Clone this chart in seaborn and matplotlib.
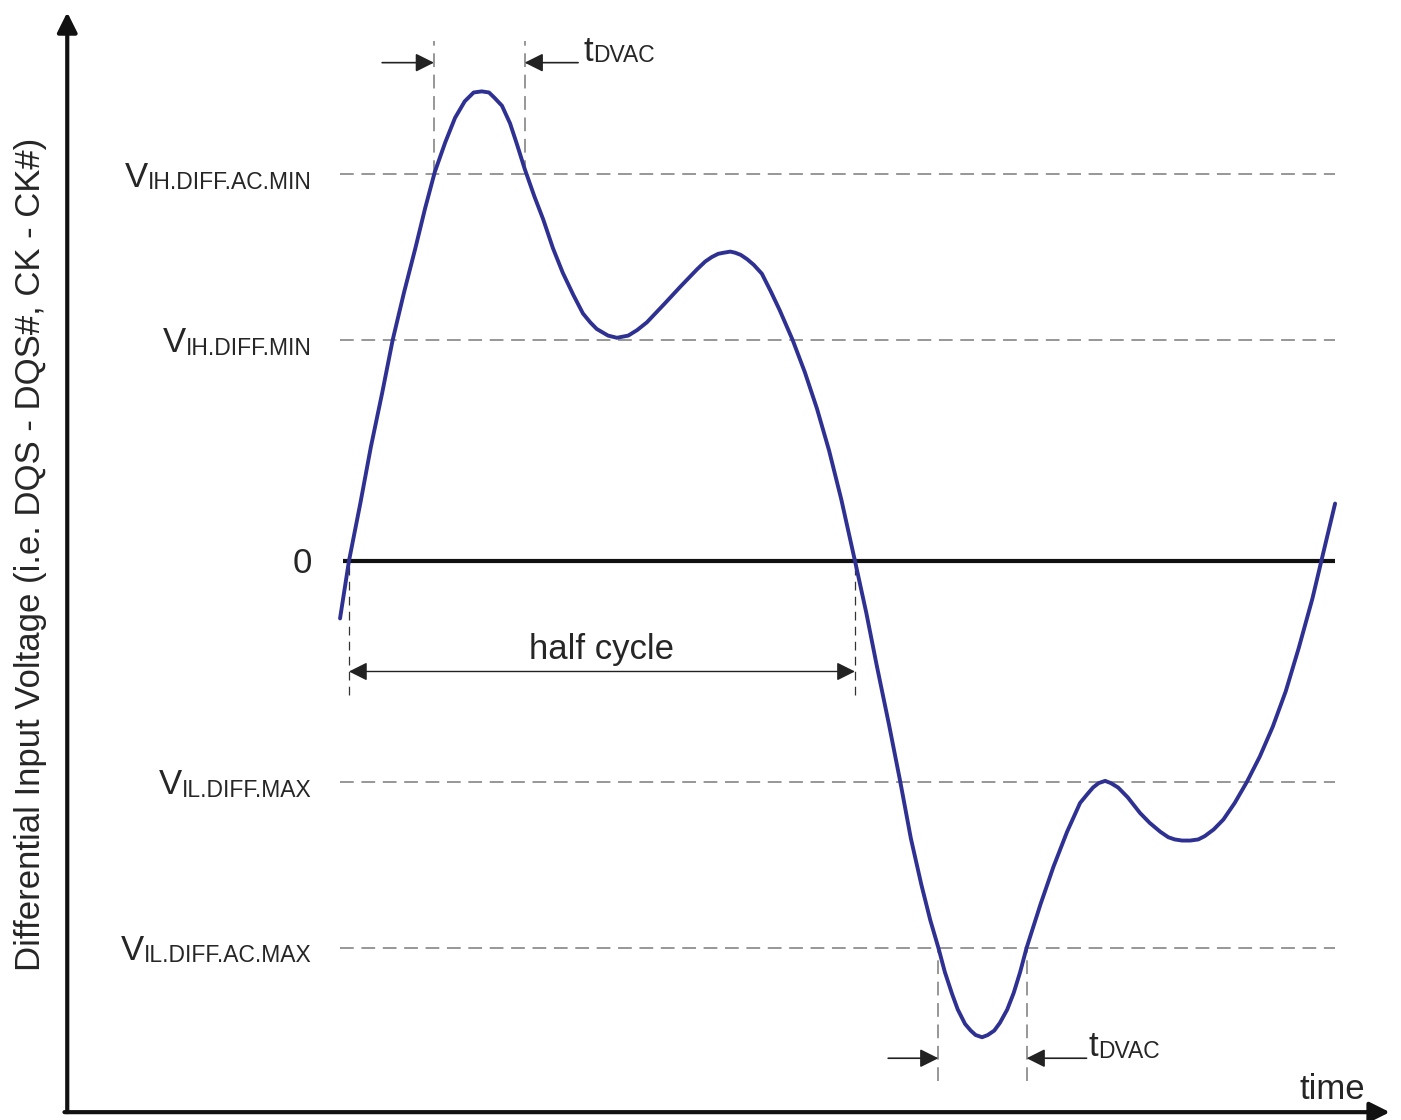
import matplotlib
matplotlib.use("Agg")
import matplotlib.pyplot as plt
import matplotlib.transforms as mtransforms
import seaborn as sns
import pandas as pd

# Differential waveform (time in ps, voltage in mV)
time_ps = [-11, 0, 14, 27, 41, 54, 68, 82, 94, 106, 119, 131, 143, 154, 164, 173,
           180, 189, 199, 208, 217, 229, 240, 252, 264, 277, 289, 298, 306, 320,
           331, 345, 356, 368, 390, 409, 430, 440, 448, 456, 463, 471, 477, 484,
           492, 500, 510, 521, 532, 548, 563, 578, 593, 608, 625, 639, 652, 667,
           681, 694, 707, 718, 728, 736, 745, 752, 761, 768, 774, 782, 789, 797,
           804, 813, 821, 829, 837, 854, 870, 887, 903, 912, 919, 926, 934, 941,
           950, 962, 977, 989, 1002, 1012, 1020, 1029, 1039, 1049, 1057, 1068,
           1080, 1094, 1109, 1125, 1141, 1157, 1173, 1190, 1201, 1218]
volt_mv = [-52, 0, 52, 103, 152, 200, 243, 283, 319, 352, 379, 401, 416, 424, 425, 424,
           419, 412, 396, 376, 355, 330, 309, 283, 261, 241, 224, 216, 210, 204,
           202, 204, 209, 216, 233, 248, 264, 271, 275, 278, 279, 280, 279, 277,
           273, 268, 260, 244, 227, 200, 171, 138, 100, 56, 0, -47, -95, -148,
           -200, -251, -293, -325, -350, -372, -392, -406, -419, -425, -429, -431, -429, -425,
           -418, -406, -391, -372, -350, -311, -277, -245, -219, -211, -205, -201, -199, -201,
           -205, -214, -228, -237, -245, -250, -252, -253, -253, -252, -249, -243,
           -234, -219, -200, -177, -150, -118, -79, -34, 0, 52]

# Threshold levels (mV) with label base letter and subscript
level_values = [350, 200, -200, -350]
level_main = ["V", "V", "V", "V"]
level_subs = ["IH.DIFF.AC.MIN", "IH.DIFF.MIN", "IL.DIFF.MAX", "IL.DIFF.AC.MAX"]
zero_label = "0"

# Time window over which the reference lines are drawn (ps)
line_start, line_end = -11, 1218

# Half cycle: between consecutive zero crossings
half_cycle_edges = [0, 625]
half_cycle_text = "half cycle"

# tDVAC windows: where the waveform stays beyond the AC thresholds
tdvac_high = [105, 217]
tdvac_low = [728, 837]
tdvac_main, tdvac_sub = "t", "DVAC"

ylabel_text = "Differential Input Voltage (i.e. DQS - DQS#, CK - CK#)"
xlabel_text = "time"

sns.set_theme(style="white")
plt.rcParams["font.family"] = ["Liberation Sans", "DejaVu Sans"]

TEXT = "#262626"
DASH = "#7a7a7a"
WAVE = "#2E3192"
FS = 25
FS_SUB = 16.5

fig = plt.figure(figsize=(14.01, 11.20), dpi=100)
ax = fig.add_axes([0, 0, 1, 1])
ax.set_xlim(-431, 1299.4)
ax.set_ylim(-505.9, 507.7)
ax.axis("off")

# Threshold lines
ax.hlines(level_values, line_start, line_end, colors=DASH, linewidth=1.1,
          linestyles=(0, (9, 5)), zorder=1)
# Zero reference
ax.hlines([0], -7, line_end, colors="#111111", linewidth=3.0, zorder=2)

# Waveform
df = pd.DataFrame({"time": time_ps, "voltage": volt_mv})
sns.lineplot(data=df, x="time", y="voltage", sort=False, estimator=None,
             color=WAVE, linewidth=2.8, ax=ax, zorder=3)
for ln in ax.get_lines():
    ln.set_solid_joinstyle("round")
    ln.set_solid_capstyle("round")


def shifted(dy_pt):
    return mtransforms.offset_copy(ax.transData, fig=fig, x=0, y=dy_pt, units="points")


renderer = fig.canvas.get_renderer()


def label_right(x, y, main, sub, dy_pt):
    """Right-aligned label: big base letter followed by a subscript."""
    s = ax.text(x, y, sub, ha="right", va="baseline", fontsize=FS_SUB,
                color=TEXT, transform=shifted(dy_pt - 1.5))
    bb = s.get_window_extent(renderer)
    x0 = ax.transData.inverted().transform((bb.x0, 0))[0]
    ax.text(x0, y, main, ha="right", va="baseline", fontsize=FS, color=TEXT,
            transform=shifted(dy_pt))


def label_left(x, y, main, sub, dy_pt):
    """Left-aligned label: big base letter followed by a subscript."""
    m = ax.text(x, y, main, ha="left", va="baseline", fontsize=FS, color=TEXT,
                transform=shifted(dy_pt))
    bb = m.get_window_extent(renderer)
    x1 = ax.transData.inverted().transform((bb.x1, 0))[0]
    ax.text(x1, y, sub, ha="left", va="baseline", fontsize=FS_SUB, color=TEXT,
            transform=shifted(dy_pt - 1.0))


# Level labels
for val, mn, sb in zip(level_values, level_main, level_subs):
    label_right(-46, val, mn, sb, -9)
ax.text(-46, 0, zero_label, ha="right", va="baseline", fontsize=FS, color=TEXT,
        transform=shifted(-8.5))

# Half cycle marker
ax.vlines(half_cycle_edges, -121, -4, colors="#333333", linewidth=0.9,
          linestyles=(0, (7, 5)), zorder=1)
ax.annotate("", xy=(half_cycle_edges[1], -100), xytext=(half_cycle_edges[0], -100),
            arrowprops=dict(arrowstyle="<|-|>", color="#222222", lw=1.0,
                            mutation_scale=28, shrinkA=0, shrinkB=0))
ax.text(sum(half_cycle_edges) / 2, -80, half_cycle_text, ha="center", va="center",
        fontsize=FS, color=TEXT)

arrow_kw = dict(arrowstyle="-|>", color="#222222", lw=1.2, mutation_scale=28,
                shrinkA=0, shrinkB=0)

# tDVAC above VIH.DIFF.AC.MIN
ax.vlines(tdvac_high, 350, 471, colors=DASH, linewidth=1.1,
          linestyles=(0, (9, 5)), zorder=1)
ax.annotate("", xy=(tdvac_high[0], 451), xytext=(tdvac_high[0] - 64, 451),
            arrowprops=arrow_kw)
ax.annotate("", xy=(tdvac_high[1], 451), xytext=(tdvac_high[1] + 66, 451),
            arrowprops=arrow_kw)
label_left(tdvac_high[1] + 73, 451, tdvac_main, tdvac_sub, 1.5)

# tDVAC below VIL.DIFF.AC.MAX
ax.vlines(tdvac_low, -471, -350, colors=DASH, linewidth=1.1,
          linestyles=(0, (9, 5)), zorder=1)
ax.annotate("", xy=(tdvac_low[0], -450), xytext=(tdvac_low[0] - 62, -450),
            arrowprops=arrow_kw)
ax.annotate("", xy=(tdvac_low[1], -450), xytext=(tdvac_low[1] + 74, -450),
            arrowprops=arrow_kw)
label_left(tdvac_low[1] + 76, -450, tdvac_main, tdvac_sub, 1.5)

# Axes with arrow heads
ax.annotate("", xy=(0.048, 0.989), xytext=(0.048, 0.007), xycoords="axes fraction",
            arrowprops=dict(arrowstyle="-|>", color="#111111", lw=3.0,
                            mutation_scale=30, shrinkA=0, shrinkB=0))
ax.annotate("", xy=(0.992, 0.007), xytext=(0.046, 0.007), xycoords="axes fraction",
            arrowprops=dict(arrowstyle="-|>", color="#111111", lw=3.0,
                            mutation_scale=30, shrinkA=0, shrinkB=0))

ax.text(0.0215, 0.505, ylabel_text, rotation=90, ha="center", va="center",
        fontsize=FS, color=TEXT, transform=ax.transAxes)
ax.text(0.951, 0.027, xlabel_text, ha="center", va="center",
        fontsize=FS, color=TEXT, transform=ax.transAxes)

fig.savefig("out.png", dpi=100, facecolor="white")
